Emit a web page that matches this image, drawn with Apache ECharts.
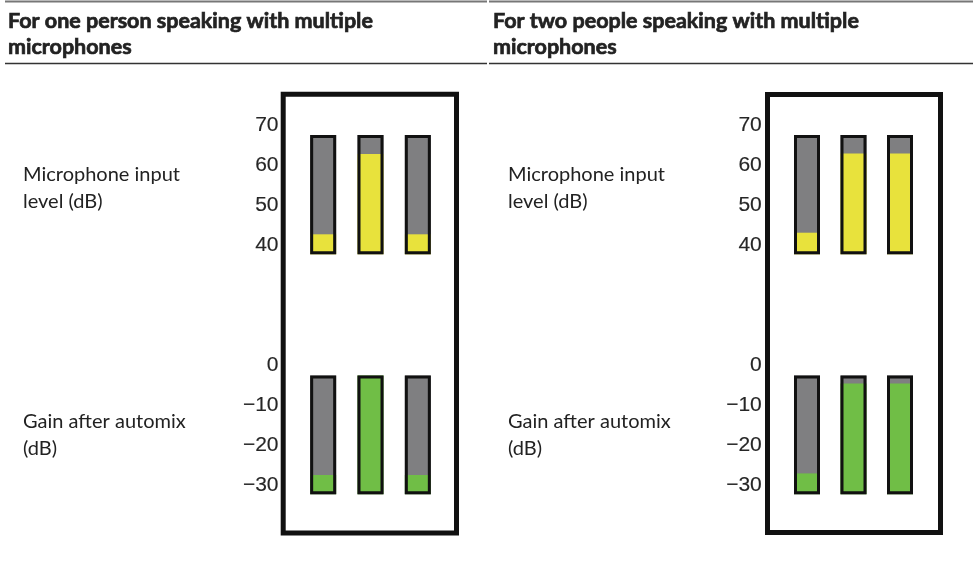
<!DOCTYPE html>
<html>
<head>
<meta charset="utf-8">
<script src="https://cdn.jsdelivr.net/npm/echarts@6/dist/echarts.min.js"></script>
<style>
  html, body { margin: 0; padding: 0; background: #fff; }
  #main { width: 973px; height: 569px; }
</style>
</head>
<body>
<div id="main"></div>
<script>
// meter channels
const channels = ["Mic 1", "Mic 2", "Mic 3"];

// scale labels shown beside the meters
const inputTicks = [40, 50, 60, 70];
const gainTicks = [-30, -20, -10, 0];

// meter ranges (bottom and top of each meter, dB)
const inputFloor = 37.8;
const inputTop = 67.6;
const gainFloor = -32.3;
const gainTop = -2.6;

// levels
const onePersonInput = [42.8, 62.9, 42.8];
const onePersonGain = [-27.5, -2.6, -27.5];
const twoPeopleInput = [43.2, 63.0, 63.0];
const twoPeopleGain = [-27.1, -4.6, -4.6];

const titles = [
  "For one person speaking with multiple\nmicrophones",
  "For two people speaking with multiple\nmicrophones",
];
const inputLabel = "Microphone input\nlevel (dB)";
const gainLabel = "Gain after automix\n(dB)";

const GRAY = "#7f7f81";
const YELLOW = "#e8e23c";
const GREEN = "#70be46";

var chartDom = document.getElementById("main");
var myChart = echarts.init(chartDom, null, { renderer: "canvas" });

function yAx(idx, min, max, start, ticks, margin) {
  return {
    type: "value",
    gridIndex: idx,
    min: min,
    max: max,
    interval: 10,
    startValue: start,
    axisLine: { show: false },
    axisTick: { show: false },
    splitLine: { show: false },
    axisLabel: {
      margin: margin,
      fontFamily: "'Liberation Sans', Arial, sans-serif",
      fontSize: 21,
      color: "#262626",
      textBorderColor: "#262626",
      textBorderWidth: 0.15,
      formatter: function (v) {
        if (ticks.indexOf(v) < 0) return "";
        return v < 0 ? "\u2212" + Math.abs(v) : String(v);
      },
    },
  };
}

function meter(idx, top, levels, color) {
  const tops = channels.map(() => top);
  return [
    {
      type: "bar",
      xAxisIndex: idx,
      yAxisIndex: idx,
      data: tops,
      barWidth: 26,
      barGap: "-100%",
      itemStyle: { color: GRAY },
      silent: true,
    },
    {
      type: "bar",
      xAxisIndex: idx,
      yAxisIndex: idx,
      data: levels,
      barWidth: 26,
      barGap: "-100%",
      itemStyle: { color: color },
      silent: true,
    },
    {
      type: "bar",
      xAxisIndex: idx,
      yAxisIndex: idx,
      data: tops,
      barWidth: 26,
      barGap: "-100%",
      itemStyle: { color: "rgba(0,0,0,0)", borderColor: "#111", borderWidth: 3 },
      silent: true,
    },
  ];
}

const grids = [
  { left: 299.5, width: 142, top: 85.5, height: 200 },
  { left: 299.5, width: 142, top: 325, height: 200 },
  { left: 783.75, width: 139.5, top: 85.5, height: 200 },
  { left: 783.75, width: 139.5, top: 325, height: 200 },
];

const xAxes = grids.map((g, i) => ({
  type: "category",
  gridIndex: i,
  data: channels,
  show: false,
}));

const yAxes = [
  yAx(0, 30, 80, inputFloor, inputTicks, 21),
  yAx(1, -40, 10, gainFloor, gainTicks, 21),
  yAx(2, 30, 80, inputFloor, inputTicks, 22),
  yAx(3, -40, 10, gainFloor, gainTicks, 22),
];

const series = []
  .concat(meter(0, inputTop, onePersonInput, YELLOW))
  .concat(meter(1, gainTop, onePersonGain, GREEN))
  .concat(meter(2, inputTop, twoPeopleInput, YELLOW))
  .concat(meter(3, gainTop, twoPeopleGain, GREEN));

function headerText(x, txt) {
  const lines = txt.split("\n");
  return lines.map((l, i) => ({
    type: "text",
    x: x,
    y: 21 + i * 26,
    style: {
      text: l,
      fontFamily: "Lato",
      fontWeight: "bold",
      fontSize: 21.5,
      fill: "#222",
      stroke: "#222",
      lineWidth: 0.7,
      verticalAlign: "middle",
    },
  }));
}

function sideText(x, y, txt) {
  const lines = txt.split("\n");
  return lines.map((l, i) => ({
    type: "text",
    x: x,
    y: y + i * 27,
    style: {
      text: l,
      fontFamily: "Lato",
      fontSize: 20,
      fill: "#222",
      verticalAlign: "middle",
    },
  }));
}

const graphics = [
  { type: "line", shape: { x1: 5, y1: 1.5, x2: 487, y2: 1.5 }, style: { stroke: "#777", lineWidth: 2 } },
  { type: "line", shape: { x1: 489, y1: 1.5, x2: 973, y2: 1.5 }, style: { stroke: "#777", lineWidth: 2 } },
  { type: "line", shape: { x1: 5, y1: 63.5, x2: 487, y2: 63.5 }, style: { stroke: "#333", lineWidth: 1.5 } },
  { type: "line", shape: { x1: 489, y1: 63.5, x2: 973, y2: 63.5 }, style: { stroke: "#333", lineWidth: 1.5 } },
  { type: "rect", shape: { x: 283.2, y: 94.2, width: 173.3, height: 438.8 }, style: { fill: "none", stroke: "#111", lineWidth: 5 } },
  { type: "rect", shape: { x: 767.5, y: 94.5, width: 173, height: 438 }, style: { fill: "none", stroke: "#111", lineWidth: 5 } },
]
  .concat(headerText(8, titles[0]))
  .concat(headerText(493, titles[1]))
  .concat(sideText(23, 175, inputLabel))
  .concat(sideText(23, 422, gainLabel))
  .concat(sideText(508, 175, inputLabel))
  .concat(sideText(508, 422, gainLabel));

var option = {
  animation: false,
  backgroundColor: "#fff",
  grid: grids,
  xAxis: xAxes,
  yAxis: yAxes,
  series: series,
  graphic: graphics,
};

option && myChart.setOption(option);
</script>
</body>
</html>
